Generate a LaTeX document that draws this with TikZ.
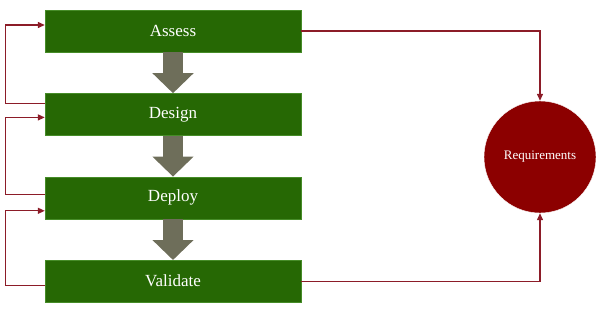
\documentclass[tikz,border=0pt]{standalone}
\usepackage{fontspec}
\setmainfont{Liberation Serif}
\usetikzlibrary{positioning,arrows.meta}

\definecolor{boxgreen}{RGB}{38,104,4}
\definecolor{edgegreen}{RGB}{70,140,40}
\definecolor{arrowgray}{RGB}{110,110,90}
\definecolor{linered}{RGB}{140,28,40}
\definecolor{reqred}{RGB}{140,0,0}

\begin{document}
\begin{tikzpicture}[
    stage/.style={draw=edgegreen,fill=boxgreen,text=white,minimum width=256pt,
      minimum height=42pt,inner sep=0pt,font=\fontsize{17}{20}\selectfont},
    flow/.style={draw=arrowgray,line width=20pt,-{Triangle[width=40pt,length=20pt]}},
    back/.style={draw=linered,line width=1.3pt,-{Triangle[length=7pt,width=6pt]}},
    goal/.style={circle,draw=white,fill=reqred,text=white,minimum size=112pt,
      inner sep=0pt,font=\fontsize{13}{15}\selectfont}]
\useasboundingbox (0,0) rectangle (606pt,-317pt);
  % stages
  \node[stage] (assess) at (173pt,-31pt) {Assess};
  \node[stage, below=41pt of assess] (design) {Design};
  \node[stage, below=41pt of design] (deploy) {Deploy};
  \node[stage, below=41pt of deploy] (validate) {Validate};
  \node[goal] (req) at (540pt,-157pt) {Requirements};

  % fat arrows down
  \draw[flow] (assess.south) -- (design.north);
  \draw[flow] (design.south) -- (deploy.north);
  \draw[flow] (deploy.south) -- (validate.north);

  % loops back on the left
  \draw[back] ([yshift=11pt]design.west) -- ++(-39pt,0) |- ([yshift=6pt]assess.west);
  \draw[back] ([yshift=3pt]deploy.west) -- ++(-39pt,0) |- ([yshift=-3pt]design.west);
  \draw[back] ([yshift=-4.5pt]validate.west) -- ++(-39pt,0) |- ([yshift=-13pt]deploy.west);

  % to requirements
  \draw[back] (assess.east) -| (req.north);
  \draw[back] (validate.east) -| (req.south);
\end{tikzpicture}
\end{document}
